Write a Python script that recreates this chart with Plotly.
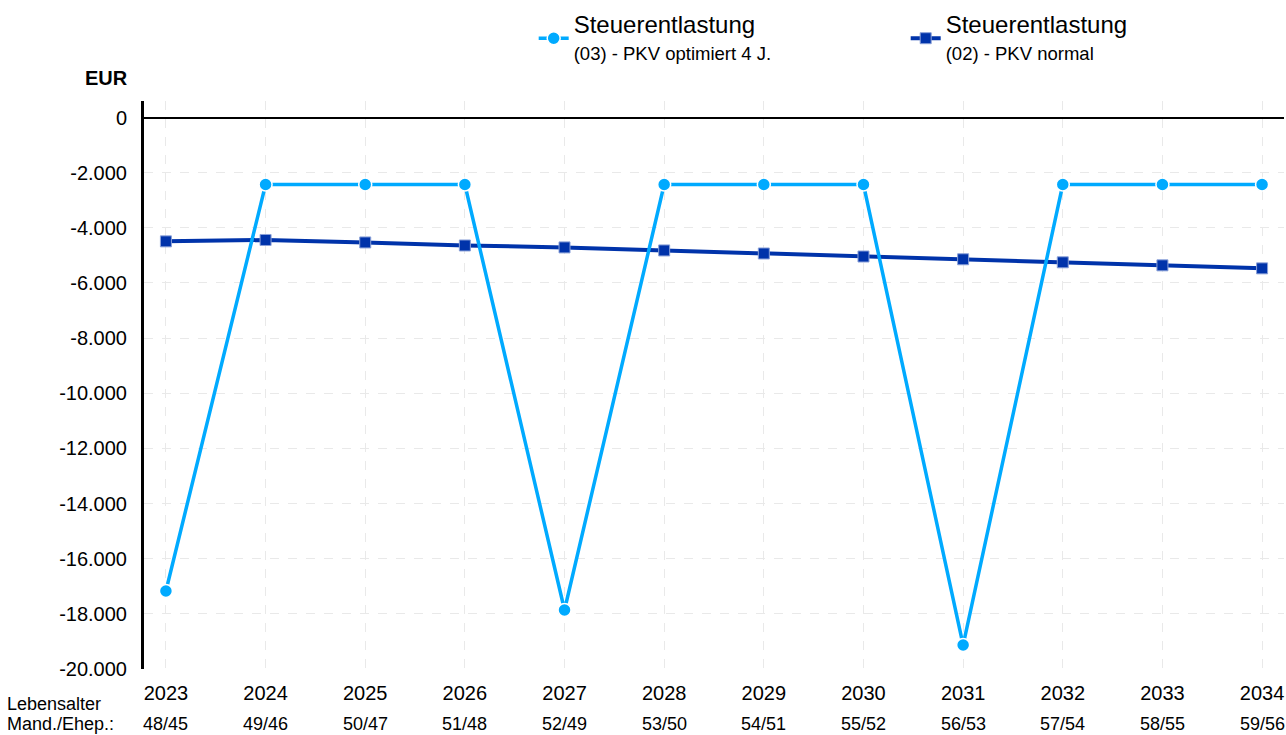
import plotly.graph_objects as go

years = ["2023", "2024", "2025", "2026", "2027", "2028", "2029", "2030", "2031", "2032", "2033", "2034"]
ages = ["48/45", "49/46", "50/47", "51/48", "52/49", "53/50", "54/51", "55/52", "56/53", "57/54", "58/55", "59/56"]
pkv_optimiert = [-17170, -2430, -2430, -2430, -17860, -2430, -2430, -2430, -19130, -2430, -2430, -2430]
pkv_normal = [-4490, -4440, -4530, -4640, -4710, -4820, -4930, -5040, -5140, -5250, -5360, -5470]

name_opt = "<span style='font-size:24px'>Steuerentlastung</span><br><span style='font-size:18.5px'>(03) - PKV optimiert 4 J.</span>"
name_norm = "<span style='font-size:24px'>Steuerentlastung</span><br><span style='font-size:18.5px'>(02) - PKV normal</span>"

LIGHT = "#00AAFF"
DARK = "#0033AA"

xs = list(range(len(years)))

fig = go.Figure()
fig.add_trace(go.Scatter(
    x=xs, y=pkv_normal, mode="lines+markers", name=name_norm, legendrank=2,
    line=dict(color=DARK, width=4),
    marker=dict(symbol="square", size=11, color=DARK, line=dict(color="#8aa0d8", width=1)),
))
fig.add_trace(go.Scatter(
    x=xs, y=pkv_optimiert, mode="lines+markers", name=name_opt, legendrank=1,
    line=dict(color=LIGHT, width=3.5),
    marker=dict(symbol="circle", size=13, color=LIGHT, line=dict(color="white", width=1.5)),
))

annotations = [
    dict(text="<b>EUR</b>", xref="paper", yref="paper", x=-0.012, y=1.04, xanchor="right", yanchor="middle",
         showarrow=False, font=dict(size=20, color="black")),
    dict(text="Lebensalter", xref="paper", yref="paper", x=-0.1215, y=-0.0616, xanchor="left", yanchor="middle",
         align="left", showarrow=False, font=dict(size=18, color="black")),
    dict(text="Mand./Ehep.:", xref="paper", yref="paper", x=-0.1215, y=-0.097, xanchor="left", yanchor="middle",
         align="left", showarrow=False, font=dict(size=18, color="black")),
]
for i, a in enumerate(ages):
    annotations.append(dict(text=a, xref="x", yref="paper", x=xs[i], y=-0.097, xanchor="center", yanchor="middle",
                            showarrow=False, font=dict(size=18, color="black")))

fig.update_layout(
    width=1286, height=735,
    margin=dict(l=144, r=2, t=101, b=66),
    paper_bgcolor="white", plot_bgcolor="white",
    font=dict(family="Liberation Sans, Arial, sans-serif", size=20, color="black"),
    showlegend=True,
    legend=dict(orientation="h", xref="container", yref="container", x=0.415, y=0.994, xanchor="left", yanchor="top",
                entrywidth=327, entrywidthmode="pixels", font=dict(size=21), bgcolor="rgba(0,0,0,0)", itemclick=False),
    annotations=annotations,
    xaxis=dict(
        tickmode="array", tickvals=xs, ticktext=years, range=[-0.22, 11.22],
        showgrid=True, gridcolor="#e9e9e9", griddash="dash", gridwidth=1,
        zeroline=False, showline=False, ticks="", ticklabelstandoff=10,
        tickfont=dict(size=20),
    ),
    yaxis=dict(
        range=[-20000, 600], tickvals=[0, -2000, -4000, -6000, -8000, -10000, -12000, -14000, -16000, -18000, -20000],
        ticktext=["0", "-2.000", "-4.000", "-6.000", "-8.000", "-10.000", "-12.000", "-14.000", "-16.000", "-18.000", "-20.000"],
        showgrid=True, gridcolor="#e9e9e9", griddash="dash", gridwidth=1,
        zeroline=True, zerolinecolor="black", zerolinewidth=2,
        showline=True, linecolor="black", linewidth=3, ticks="", ticklabelstandoff=10,
        tickfont=dict(size=20),
    ),
)

fig.write_html("out.html", config={"displayModeBar": False},
               post_script="document.body.style.margin='0';document.body.style.overflow='hidden';")
